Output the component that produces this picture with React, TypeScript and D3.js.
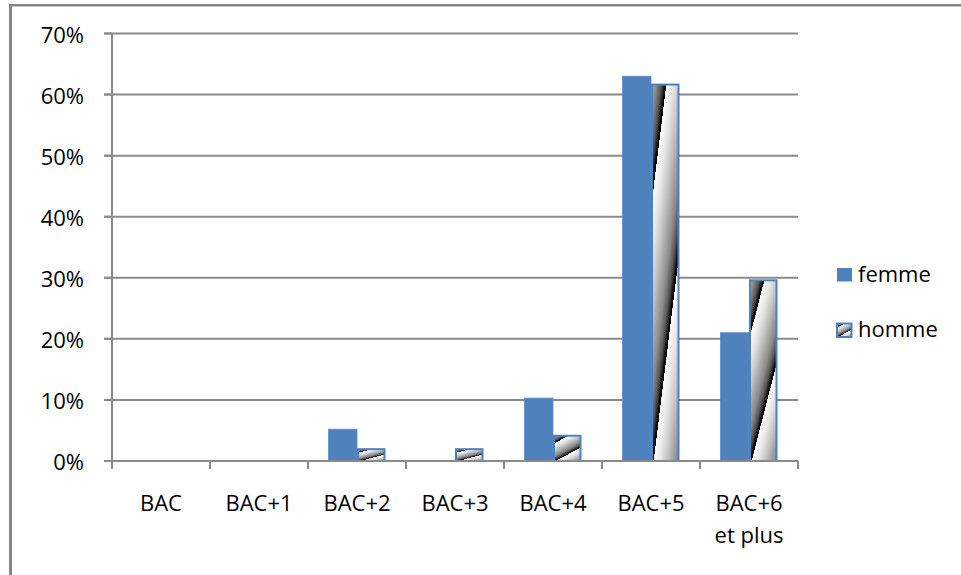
import React from "react";
import * as d3 from "d3";

const categories: string[][] = [["BAC"], ["BAC+1"], ["BAC+2"], ["BAC+3"], ["BAC+4"], ["BAC+5"], ["BAC+6", "et plus"]];
const seriesNames = ["femme", "homme"];
const femme = [0, 0, 0.052, 0, 0.103, 0.63, 0.21];
const homme = [0, 0, 0.021, 0.021, 0.043, 0.618, 0.2975];
const yTicks = [0, 0.1, 0.2, 0.3, 0.4, 0.5, 0.6, 0.7];

const W = 961, H = 575;
const left = 112, right = 798, top = 33.5, bottom = 461;
const BLUE = "#4f81bd";
const GRID = "#8a8a8a";
const FONT = "'Open Sans', Lato, 'Liberation Sans', sans-serif";
const FS = 22;

export default function App() {
  const keys = categories.map((c) => c.join(" "));
  const x = d3.scaleBand<string>().domain(keys).range([left, right]).paddingInner(0).paddingOuter(0);
  const bw = x.bandwidth();
  const xs = d3.scaleBand<string>().domain(seriesNames).range([bw * 0.209, bw * 0.791]);
  const y = d3.scaleLinear().domain([0, 0.7]).range([bottom, top]);
  const fmt = d3.format(".0%");
  const data = [femme, homme];

  return (
    <svg width={W} height={H} style={{ position: "absolute", left: 0, top: 0, background: "#fff" }} fontFamily={FONT}>
      <defs>
        <linearGradient id="stripe" gradientUnits="objectBoundingBox" x1="0.54" y1="0" x2="0.853" y2="0.548" spreadMethod="repeat">
          <stop offset="0" stopColor="#fdfdfd" />
          <stop offset="0.2" stopColor="#e6e6e6" />
          <stop offset="0.4" stopColor="#c4c4c4" />
          <stop offset="0.55" stopColor="#a6a6a6" />
          <stop offset="0.7" stopColor="#8a8a8a" />
          <stop offset="0.85" stopColor="#555555" />
          <stop offset="0.96" stopColor="#0a0a0a" />
          <stop offset="1" stopColor="#000000" />
        </linearGradient>
      </defs>
      <rect x={0} y={0} width={W} height={H} fill="#fff" />
      {/* frame */}
      <line x1={9} y1={5.25} x2={W} y2={5.25} stroke="#878787" strokeWidth={2.5} />
      <line x1={10.5} y1={4} x2={10.5} y2={H} stroke="#878787" strokeWidth={3} />

      {/* gridlines */}
      {yTicks.filter((t) => t > 0).map((t) => (
        <line key={"g" + t} x1={left - 8} x2={right} y1={y(t)} y2={y(t)} stroke={GRID} strokeWidth={2} />
      ))}
      {/* y axis */}
      <line x1={left} x2={left} y1={top} y2={bottom} stroke={GRID} strokeWidth={2} />
      {yTicks.map((t) => (
        <g key={"yt" + t}>
          <line x1={left - 8} x2={left} y1={y(t)} y2={y(t)} stroke={GRID} strokeWidth={2} />
          <text x={84} y={y(t)} textAnchor="end" dominantBaseline="central" fontSize={FS} fill="#000">
            {fmt(t)}
          </text>
        </g>
      ))}

      {/* bars */}
      {keys.map((k, i) => (
        <g key={"b" + k}>
          {seriesNames.map((s, j) => {
            const v = data[j][i];
            if (v <= 0) return null;
            const bx = (x(k) as number) + (xs(s) as number);
            const by = y(v);
            const h = bottom - by;
            if (j === 0) {
              return <rect key={s} x={bx} y={by} width={xs.bandwidth()} height={h} fill={BLUE} stroke="#5b8cc6" strokeWidth={0.8} />;
            }
            return (
              <rect key={s} x={bx + 1} y={by + 1} width={xs.bandwidth() - 2} height={h - 1} fill="url(#stripe)" stroke={BLUE} strokeWidth={2} />
            );
          })}
        </g>
      ))}

      {/* x axis */}
      <line x1={left - 8} x2={right} y1={bottom} y2={bottom} stroke={GRID} strokeWidth={2} />
      {[...keys.map((k) => x(k) as number), right].map((px, i) => (
        <line key={"xt" + i} x1={px} x2={px} y1={bottom} y2={bottom + 8} stroke={GRID} strokeWidth={2} />
      ))}
      {categories.map((lines, i) => (
        <text key={"xl" + i} x={(x(keys[i]) as number) + bw / 2} y={511} textAnchor="middle" fontSize={FS} fill="#000">
          {lines.map((l, li) => (
            <tspan key={li} x={(x(keys[i]) as number) + bw / 2} dy={li === 0 ? 0 : 32}>
              {l}
            </tspan>
          ))}
        </text>
      ))}

      {/* legend */}
      {seriesNames.map((s, j) => {
        const ly = j === 0 ? 268 : 323.5;
        return (
          <g key={"lg" + s}>
            {j === 0 ? (
              <rect x={837} y={ly} width={15} height={13.5} fill={BLUE} />
            ) : (
              <rect x={837} y={ly} width={14.5} height={13.5} fill="url(#stripe)" stroke={BLUE} strokeWidth={2} />
            )}
            <text x={858} y={ly + 13.5} fontSize={FS} fill="#000">
              {s}
            </text>
          </g>
        );
      })}
    </svg>
  );
}
